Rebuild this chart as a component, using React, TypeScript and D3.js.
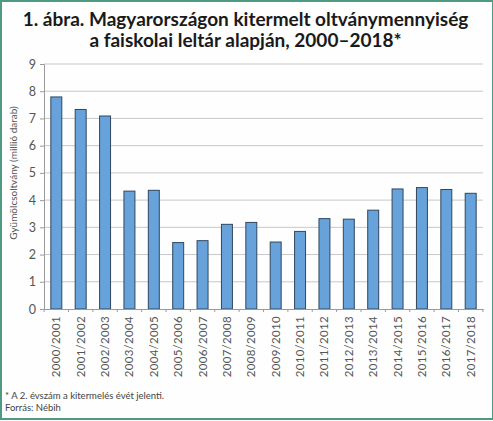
import React, { useEffect, useMemo, useRef } from "react";
import * as d3 from "d3";

const WIDTH = 493;
const HEIGHT = 421;
const MARGIN = { top: 64, right: 10, bottom: 112, left: 44 };

const categories = [
  "2000/2001", "2001/2002", "2002/2003", "2003/2004", "2004/2005", "2005/2006",
  "2006/2007", "2007/2008", "2008/2009", "2009/2010", "2010/2011", "2011/2012",
  "2012/2013", "2013/2014", "2014/2015", "2015/2016", "2016/2017", "2017/2018",
];
const values = [
  7.79, 7.33, 7.09, 4.33, 4.36, 2.44, 2.51, 3.11, 3.18, 2.46, 2.85, 3.32,
  3.3, 3.63, 4.41, 4.46, 4.39, 4.25,
];
const yTicks = [0, 1, 2, 3, 4, 5, 6, 7, 8, 9];

const titleLines = [
  "1. ábra. Magyarországon kitermelt oltványmennyiség",
  "a faiskolai leltár alapján, 2000–2018*",
];
const yLabel = "Gyümölcsoltvány (millió darab)";
const footnotes = ["* A 2. évszám a kitermelés évét jelenti.", "Forrás: Nébih"];

const FONT = "Lato, 'Open Sans', sans-serif";

export default function App() {
  const xAxisRef = useRef<SVGGElement>(null);
  const yAxisRef = useRef<SVGGElement>(null);
  const boundsWidth = WIDTH - MARGIN.left - MARGIN.right;
  const boundsHeight = HEIGHT - MARGIN.top - MARGIN.bottom;

  const xScale = useMemo(
    () => d3.scaleBand().domain(categories).range([0, boundsWidth]).paddingInner(0.55).paddingOuter(0.28),
    [boundsWidth]
  );
  const yScale = useMemo(
    () => d3.scaleLinear().domain([0, 9]).range([boundsHeight, 0]),
    [boundsHeight]
  );

  useEffect(() => {
    const gx = d3.select(xAxisRef.current);
    gx.selectAll("*").remove();
    gx.call(d3.axisBottom(xScale).tickSize(0).tickPadding(4));
    gx.select(".domain").attr("stroke", "#9a9a9a");
    gx.selectAll(".tick text")
      .attr("transform", "rotate(-90)")
      .attr("text-anchor", "end")
      .attr("dy", "0.35em")
      .attr("x", -7)
      .attr("y", 0)
      .attr("font-size", 11.5)
      .attr("letter-spacing", 0.3)
      .attr("font-family", FONT)
      .attr("fill", "#555");
    // small ticks between categories
    const step = xScale.step();
    const start = xScale(categories[0])! - (step - xScale.bandwidth()) / 2;
    d3.range(categories.length + 1).forEach((i) => {
      gx.append("line")
        .attr("x1", start + i * step)
        .attr("x2", start + i * step)
        .attr("y1", 0)
        .attr("y2", 3)
        .attr("stroke", "#9a9a9a");
    });

    const gy = d3.select(yAxisRef.current);
    gy.selectAll("*").remove();
    gy.call(d3.axisLeft(yScale).tickValues(yTicks).tickSize(4).tickPadding(4));
    gy.select(".domain").attr("stroke", "#9a9a9a");
    gy.selectAll(".tick line").attr("stroke", "#9a9a9a");
    gy.selectAll(".tick text")
      .attr("font-size", 12.5)
      .attr("font-family", FONT)
      .attr("fill", "#555");
  }, [xScale, yScale]);

  return (
    <svg width={WIDTH} height={HEIGHT} style={{ position: "absolute", left: 0, top: 0 }}>
      <rect x={0} y={0} width={WIDTH} height={HEIGHT} fill="#fdfefd" />
      <rect x={1} y={1} width={WIDTH - 1} height={HEIGHT - 3} fill="none" stroke="#4f9a82" strokeWidth={2} />
      {titleLines.map((t, i) => (
        <text
          key={i}
          x={WIDTH / 2 - 1}
          y={26 + i * 21}
          textAnchor="middle"
          fontFamily={FONT}
          fontWeight="bold"
          fontSize={19}
          fill="#1a1a1a"
        >
          {t}
        </text>
      ))}
      <text
        transform={`translate(17,173) rotate(-90)`}
        textAnchor="middle"
        fontFamily={FONT}
        fontSize={10}
        fill="#555"
      >
        {yLabel}
      </text>
      <g transform={`translate(${MARGIN.left},${MARGIN.top})`}>
        {yTicks.slice(1).map((t) => (
          <line key={t} x1={0} x2={boundsWidth} y1={yScale(t)} y2={yScale(t)} stroke="#c8c8c8" />
        ))}
        {values.map((v, i) => (
          <rect
            key={i}
            x={xScale(categories[i])}
            width={xScale.bandwidth()}
            y={yScale(v)}
            height={boundsHeight - yScale(v)}
            fill="#67a3da"
            stroke="#2f4760"
            strokeWidth={1}
          />
        ))}
        <g ref={xAxisRef} transform={`translate(0,${boundsHeight})`} />
        <g ref={yAxisRef} />
      </g>
      {footnotes.map((f, i) => (
        <text key={i} x={5} y={399 + i * 12} fontFamily={FONT} fontSize={9.5} fill="#444">
          {f}
        </text>
      ))}
    </svg>
  );
}
